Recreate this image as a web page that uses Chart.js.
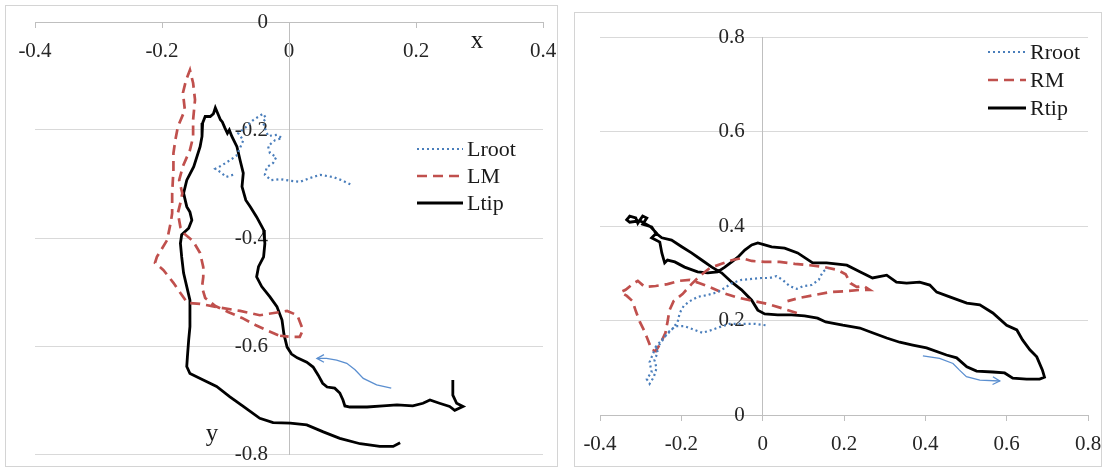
<!DOCTYPE html>
<html>
<head>
<meta charset="utf-8">
<script src="https://cdn.jsdelivr.net/npm/chart.js@4.4.1/dist/chart.umd.min.js"></script>
<style>
  html, body { margin: 0; padding: 0; background: #fff; }
  body { width: 1105px; height: 469px; position: relative; overflow: hidden; }
  .panel { position: absolute; border: 1px solid #d4d4d4; box-sizing: border-box; pointer-events: none; }
  #leftPanel { left: 5px; top: 5px; width: 553px; height: 462px; }
  #rightPanel { left: 574px; top: 12px; width: 528px; height: 455px; }
  canvas { display: block; position: absolute; }
  /* canvases are larger than the frames so tick labels never squeeze the plot area */
  #leftChart { left: 0; top: -20px; }
  #rightChart { left: 560px; top: -20px; }
</style>
</head>
<body>
<canvas id="leftChart" width="580" height="520"></canvas>
<canvas id="rightChart" width="580" height="520"></canvas>
<div class="panel" id="leftPanel"></div>
<div class="panel" id="rightPanel"></div>
<script>
// ---- left wing: trajectories [x, y] ----
const lroot = [
  [-0.088,-0.283],[-0.099,-0.287],[-0.108,-0.278],[-0.116,-0.272],[-0.105,-0.265],[-0.093,-0.256],
  [-0.083,-0.248],[-0.077,-0.233],[-0.072,-0.219],[-0.080,-0.206],[-0.069,-0.196],[-0.058,-0.183],
  [-0.049,-0.176],[-0.041,-0.170],[-0.036,-0.178],[-0.041,-0.185],[-0.038,-0.196],[-0.033,-0.211],
  [-0.019,-0.209],[-0.011,-0.215],[-0.022,-0.219],[-0.033,-0.230],[-0.030,-0.243],[-0.020,-0.250],
  [-0.025,-0.261],[-0.035,-0.269],[-0.038,-0.283],[-0.028,-0.293],[-0.014,-0.291],[0.002,-0.294],
  [0.017,-0.296],[0.033,-0.289],[0.049,-0.283],[0.069,-0.287],[0.083,-0.293],[0.099,-0.302]
];
const lm = [
  [-0.017,-0.580],[-0.033,-0.572],[-0.053,-0.561],[-0.074,-0.548],[-0.096,-0.537],[-0.116,-0.526],
  [-0.132,-0.511],[-0.137,-0.491],[-0.135,-0.472],[-0.135,-0.454],[-0.140,-0.428],[-0.151,-0.406],
  [-0.164,-0.393],[-0.171,-0.380],[-0.175,-0.354],[-0.171,-0.335],[-0.168,-0.317],[-0.173,-0.293],
  [-0.167,-0.267],[-0.156,-0.237],[-0.151,-0.213],[-0.151,-0.181],[-0.148,-0.144],[-0.151,-0.113],
  [-0.156,-0.089],[-0.162,-0.107],[-0.167,-0.131],[-0.164,-0.163],[-0.175,-0.194],[-0.179,-0.219],
  [-0.182,-0.243],[-0.182,-0.274],[-0.184,-0.317],[-0.184,-0.354],[-0.186,-0.370],[-0.192,-0.404],
  [-0.208,-0.435],[-0.211,-0.446],[-0.198,-0.459],[-0.182,-0.483],[-0.171,-0.502],[-0.160,-0.520],
  [-0.140,-0.522],[-0.113,-0.528],[-0.077,-0.535],[-0.046,-0.543],[-0.003,-0.535],[0.013,-0.543],
  [0.022,-0.570],[0.017,-0.583],[0.002,-0.583],[-0.014,-0.581]
];
const ltip = [
  [0.258,-0.663],[0.258,-0.691],[0.264,-0.706],[0.274,-0.712],[0.261,-0.719],[0.253,-0.712],
  [0.237,-0.706],[0.222,-0.700],[0.211,-0.706],[0.195,-0.711],[0.170,-0.709],[0.148,-0.711],
  [0.123,-0.713],[0.096,-0.713],[0.088,-0.711],[0.085,-0.700],[0.080,-0.687],[0.072,-0.678],
  [0.060,-0.676],[0.053,-0.669],[0.046,-0.654],[0.038,-0.639],[0.028,-0.630],[0.013,-0.622],
  [0.004,-0.615],[-0.003,-0.602],[-0.008,-0.578],[-0.011,-0.552],[-0.019,-0.527],[-0.030,-0.509],
  [-0.043,-0.490],[-0.051,-0.472],[-0.048,-0.453],[-0.040,-0.435],[-0.038,-0.410],[-0.040,-0.385],
  [-0.051,-0.361],[-0.061,-0.342],[-0.068,-0.330],[-0.074,-0.305],[-0.072,-0.280],[-0.077,-0.256],
  [-0.082,-0.231],[-0.090,-0.212],[-0.094,-0.200],[-0.097,-0.206],[-0.101,-0.196],[-0.105,-0.185],
  [-0.108,-0.181],[-0.112,-0.170],[-0.116,-0.159],[-0.119,-0.170],[-0.124,-0.175],[-0.132,-0.175],
  [-0.136,-0.187],[-0.137,-0.212],[-0.140,-0.231],[-0.150,-0.268],[-0.161,-0.293],[-0.166,-0.317],
  [-0.161,-0.342],[-0.156,-0.352],[-0.153,-0.367],[-0.158,-0.382],[-0.169,-0.394],[-0.171,-0.410],
  [-0.169,-0.435],[-0.166,-0.465],[-0.161,-0.490],[-0.156,-0.515],[-0.156,-0.539],[-0.156,-0.564],
  [-0.158,-0.589],[-0.160,-0.620],[-0.161,-0.638],[-0.156,-0.651],[-0.135,-0.663],[-0.114,-0.675],
  [-0.093,-0.694],[-0.072,-0.712],[-0.046,-0.734],[-0.025,-0.742],[0.002,-0.743],[0.028,-0.746],
  [0.054,-0.759],[0.080,-0.771],[0.112,-0.781],[0.143,-0.786],[0.164,-0.786],[0.175,-0.779]
];
const leftArrow = [
  [0.161,-0.678],[0.138,-0.672],[0.117,-0.660],[0.104,-0.644],[0.091,-0.632],[0.075,-0.626],
  [0.059,-0.623],[0.044,-0.623]
];

// ---- right wing: trajectories [x, y] ----
const rroot = [
  [0.007,0.190],[-0.020,0.193],[-0.052,0.193],[-0.081,0.193],[-0.106,0.186],[-0.125,0.180],
  [-0.148,0.174],[-0.167,0.180],[-0.192,0.188],[-0.214,0.188],[-0.231,0.176],[-0.248,0.159],
  [-0.263,0.144],[-0.258,0.133],[-0.266,0.116],[-0.261,0.099],[-0.268,0.080],[-0.278,0.066],
  [-0.285,0.076],[-0.273,0.091],[-0.278,0.112],[-0.268,0.133],[-0.253,0.150],[-0.239,0.167],
  [-0.224,0.180],[-0.209,0.197],[-0.204,0.216],[-0.194,0.231],[-0.179,0.241],[-0.160,0.250],
  [-0.135,0.254],[-0.111,0.260],[-0.093,0.269],[-0.076,0.279],[-0.052,0.286],[-0.027,0.288],
  [-0.002,0.290],[0.017,0.290],[0.034,0.294],[0.049,0.286],[0.066,0.273],[0.084,0.267],
  [0.101,0.273],[0.120,0.275],[0.138,0.286],[0.148,0.303],[0.160,0.311]
];
const rm = [
  [0.084,0.216],[0.047,0.226],[0.012,0.235],[-0.032,0.243],[-0.064,0.249],[-0.096,0.258],
  [-0.125,0.269],[-0.155,0.279],[-0.179,0.286],[-0.204,0.284],[-0.234,0.277],[-0.263,0.273],
  [-0.290,0.271],[-0.307,0.284],[-0.320,0.277],[-0.337,0.265],[-0.349,0.260],[-0.334,0.252],
  [-0.320,0.241],[-0.312,0.220],[-0.302,0.197],[-0.290,0.176],[-0.280,0.154],[-0.273,0.138],
  [-0.263,0.135],[-0.251,0.152],[-0.239,0.174],[-0.234,0.197],[-0.229,0.222],[-0.219,0.241],
  [-0.197,0.256],[-0.175,0.277],[-0.155,0.294],[-0.130,0.311],[-0.101,0.320],[-0.074,0.328],
  [-0.052,0.332],[-0.027,0.326],[0.005,0.324],[0.042,0.324],[0.079,0.320],[0.116,0.317],
  [0.152,0.313],[0.184,0.307],[0.204,0.298],[0.216,0.279],[0.231,0.271],[0.248,0.273],
  [0.263,0.265],[0.243,0.265],[0.202,0.262],[0.165,0.260],[0.128,0.254],[0.091,0.248],
  [0.061,0.241]
];
const rtip = [
  [-0.334,0.413],[-0.327,0.421],[-0.312,0.417],[-0.307,0.406],[-0.295,0.421],[-0.285,0.417],
  [-0.295,0.404],[-0.273,0.398],[-0.263,0.385],[-0.248,0.375],[-0.224,0.370],[-0.199,0.356],
  [-0.175,0.343],[-0.150,0.328],[-0.125,0.313],[-0.101,0.301],[-0.076,0.281],[-0.052,0.265],
  [-0.027,0.243],[-0.012,0.222],[0.005,0.214],[0.037,0.212],[0.071,0.212],[0.103,0.210],
  [0.135,0.205],[0.155,0.197],[0.197,0.190],[0.239,0.184],[0.270,0.174],[0.305,0.163],
  [0.337,0.154],[0.369,0.148],[0.403,0.142],[0.452,0.127],[0.477,0.121],[0.502,0.102],
  [0.526,0.093],[0.566,0.091],[0.595,0.089],[0.615,0.078],[0.649,0.076],[0.681,0.076],
  [0.693,0.080],[0.688,0.095],[0.674,0.123],[0.657,0.138],[0.639,0.159],[0.625,0.180],
  [0.600,0.190],[0.566,0.216],[0.534,0.233],[0.502,0.237],[0.460,0.250],[0.428,0.260],
  [0.411,0.275],[0.386,0.281],[0.354,0.279],[0.329,0.281],[0.305,0.296],[0.270,0.290],
  [0.239,0.303],[0.207,0.317],[0.157,0.322],[0.123,0.322],[0.086,0.343],[0.054,0.353],
  [0.022,0.356],[0.005,0.360],[-0.012,0.364],[-0.027,0.360],[-0.044,0.349],[-0.061,0.334],
  [-0.076,0.324],[-0.093,0.313],[-0.111,0.303],[-0.135,0.301],[-0.160,0.303],[-0.192,0.313],
  [-0.216,0.324],[-0.234,0.328],[-0.241,0.322],[-0.248,0.343],[-0.253,0.366],[-0.273,0.375],
  [-0.261,0.385],[-0.275,0.398],[-0.302,0.411],[-0.327,0.408],[-0.337,0.415]
];
const rightArrow = [
  [0.394,0.125],[0.435,0.120],[0.468,0.109],[0.484,0.095],[0.501,0.081],[0.534,0.074],[0.583,0.072]
];

const leftLabels = ['Lroot', 'LM', 'Ltip'];
const rightLabels = ['Rroot', 'RM', 'Rtip'];

const SERIF = "'Liberation Serif', 'Times New Roman', serif";
const TEXT = '#262626';
Chart.defaults.font.family = SERIF;
Chart.defaults.color = TEXT;

const toPoints = arr => arr.map(p => ({ x: p[0], y: p[1] }));
const fmt = v => String(Number(v.toFixed(1)));

function makeDatasets(series, labels) {
  const styles = [
    { borderColor: '#4a7ebb', borderWidth: 2.2, borderDash: [2, 3] },
    { borderColor: '#c0504d', borderWidth: 2.7, borderDash: [10, 6] },
    { borderColor: '#000000', borderWidth: 2.8, borderDash: [] }
  ];
  return series.map((s, i) => Object.assign({
    label: labels[i],
    data: toPoints(s),
    showLine: true,
    tension: 0,
    pointRadius: 0,
    pointHoverRadius: 0,
    fill: false
  }, styles[i]));
}

// y tick labels sit a little left of the vertical axis line at x = 0
const yTickLabels = {
  id: 'yTickLabels',
  beforeDatasetsDraw(chart, args, opts) {
    const ctx = chart.ctx, sx = chart.scales.x, sy = chart.scales.y;
    const right = sx.getPixelForValue(0) - opts.gap;
    ctx.save();
    ctx.font = '21px ' + SERIF;
    ctx.fillStyle = TEXT;
    ctx.textAlign = 'right';
    ctx.textBaseline = 'middle';
    sy.ticks.forEach(t => ctx.fillText(fmt(t.value), right, sy.getPixelForValue(t.value)));
    ctx.restore();
  }
};

// legend drawn inside the plot area
const inlineLegend = {
  id: 'inlineLegend',
  afterDatasetsDraw(chart, args, opts) {
    const ctx = chart.ctx;
    ctx.save();
    ctx.font = opts.size + 'px ' + SERIF;
    ctx.textBaseline = 'middle';
    chart.data.datasets.forEach((ds, i) => {
      const y = opts.y + i * opts.rowGap;
      ctx.beginPath();
      ctx.setLineDash(ds.borderDash || []);
      ctx.strokeStyle = ds.borderColor;
      ctx.lineWidth = ds.borderWidth;
      ctx.moveTo(opts.x, y);
      ctx.lineTo(opts.x + opts.lineLength, y);
      ctx.stroke();
      ctx.setLineDash([]);
      ctx.fillStyle = '#1a1a1a';
      ctx.fillText(ds.label, opts.x + opts.lineLength + 4, y + 1);
    });
    ctx.restore();
  }
};

// thin direction arrow and axis letters
const annotations = {
  id: 'annotations',
  afterDatasetsDraw(chart, args, opts) {
    const ctx = chart.ctx;
    const sx = chart.scales.x, sy = chart.scales.y;
    ctx.save();
    if (opts.arrow) {
      const pts = opts.arrow.map(p => [sx.getPixelForValue(p[0]), sy.getPixelForValue(p[1])]);
      ctx.strokeStyle = '#5b8fd0';
      ctx.lineWidth = 1.3;
      ctx.beginPath();
      pts.forEach((p, i) => i ? ctx.lineTo(p[0], p[1]) : ctx.moveTo(p[0], p[1]));
      ctx.stroke();
      const a = pts[pts.length - 2], b = pts[pts.length - 1];
      const ang = Math.atan2(b[1] - a[1], b[0] - a[0]);
      ctx.beginPath();
      ctx.moveTo(b[0] - 8 * Math.cos(ang - 0.5), b[1] - 8 * Math.sin(ang - 0.5));
      ctx.lineTo(b[0], b[1]);
      ctx.lineTo(b[0] - 8 * Math.cos(ang + 0.5), b[1] - 8 * Math.sin(ang + 0.5));
      ctx.stroke();
    }
    if (opts.letters) {
      ctx.fillStyle = '#1a1a1a';
      ctx.font = '25px ' + SERIF;
      ctx.textAlign = 'center';
      ctx.textBaseline = 'middle';
      opts.letters.forEach(t => ctx.fillText(t.text, t.x, t.y));
    }
    ctx.restore();
  }
};

function xAxis(min, max) {
  return {
    type: 'linear', min: min, max: max,
    position: { y: 0 },
    ticks: { stepSize: 0.2, font: { size: 21 }, color: TEXT, padding: 12, callback: fmt },
    grid: { drawOnChartArea: false, drawTicks: true, tickLength: 5, color: '#bfbfbf' },
    border: { color: '#bfbfbf', width: 1 }
  };
}

function yAxis(min, max) {
  return {
    type: 'linear', min: min, max: max,
    position: { x: 0 },
    ticks: { stepSize: 0.2, display: false },
    grid: { color: '#d9d9d9', drawTicks: false },
    border: { color: '#bfbfbf', width: 1 }
  };
}

const common = {
  responsive: false,
  animation: false,
  events: []
};

new Chart(document.getElementById('leftChart'), {
  type: 'scatter',
  data: { datasets: makeDatasets([lroot, lm, ltip], leftLabels) },
  options: Object.assign({}, common, {
    layout: { padding: { left: 35, right: 37, top: 42, bottom: 46 } },
    scales: { x: xAxis(-0.4, 0.4), y: yAxis(-0.8, 0) },
    plugins: {
      legend: { display: false },
      tooltip: { enabled: false },
      yTickLabels: { gap: 21 },
      inlineLegend: { x: 417, y: 169, rowGap: 27, lineLength: 46, size: 22 },
      annotations: {
        arrow: leftArrow,
        letters: [{ text: 'x', x: 477, y: 61 }, { text: 'y', x: 212, y: 454 }]
      }
    }
  }),
  plugins: [yTickLabels, inlineLegend, annotations]
});

new Chart(document.getElementById('rightChart'), {
  type: 'scatter',
  data: { datasets: makeDatasets([rroot, rm, rtip], rightLabels) },
  options: Object.assign({}, common, {
    layout: { padding: { left: 40, right: 52, top: 57, bottom: 85 } },
    scales: { x: xAxis(-0.4, 0.8), y: yAxis(0, 0.8) },
    plugins: {
      legend: { display: false },
      tooltip: { enabled: false },
      yTickLabels: { gap: 18 },
      inlineLegend: { x: 428, y: 72, rowGap: 28, lineLength: 38, size: 22 },
      annotations: { arrow: rightArrow }
    }
  }),
  plugins: [yTickLabels, inlineLegend, annotations]
});
</script>
</body>
</html>
